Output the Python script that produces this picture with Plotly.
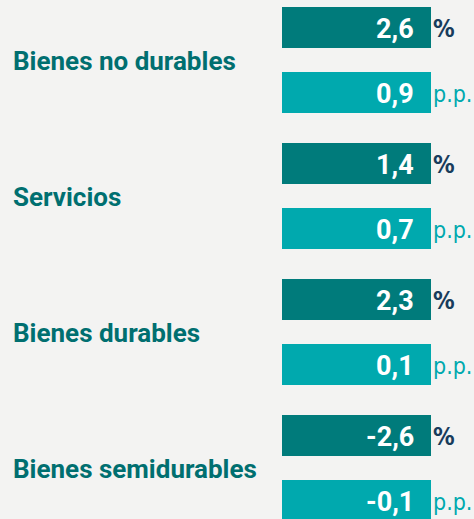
import plotly.graph_objects as go

categories = ["Bienes no durables", "Servicios", "Bienes durables", "Bienes semidurables"]
pct_values = [2.6, 1.4, 2.3, -2.6]       # dark bars, unit "%"
pp_values = [0.9, 0.7, 0.1, -0.1]        # light bars, unit "p.p."
pct_unit = "%"
pp_unit = "p.p."
bar_length = 1.0  # all bars are drawn the same length in the original

DARK = "#007b7b"
LIGHT = "#00a9ae"
LABEL = "#006f70"
NAVY = "#183c5c"
BG = "#f3f3f2"
FONT = "Roboto, sans-serif"
UFONT = "DejaVu Sans Condensed, sans-serif"

gap = 136 / 65
dark_y = [i * gap for i in range(len(categories))]
light_y = [i * gap + 1 for i in range(len(categories))]
mid_y = [i * gap + 0.5 for i in range(len(categories))]

def fmt(v):
    return f"{v:.1f}".replace(".", ",")

fig = go.Figure()
fig.add_trace(go.Bar(x=[bar_length] * len(categories), y=dark_y, orientation="h",
                     marker=dict(color=DARK, line=dict(width=0)), width=41 / 65,
                     hoverinfo="skip", showlegend=False))
fig.add_trace(go.Bar(x=[bar_length] * len(categories), y=light_y, orientation="h",
                     marker=dict(color=LIGHT, line=dict(width=0)), width=41 / 65,
                     hoverinfo="skip", showlegend=False))

ann = []
for i, cat in enumerate(categories):
    ann.append(dict(x=11 / 474, xref="paper", y=mid_y[i], yref="y", text=cat,
                    xanchor="left", yanchor="middle", showarrow=False, yshift=-1,
                    font=dict(family=FONT, size=26, color=LABEL, weight="bold")))
    ann.append(dict(x=bar_length, xref="x", y=dark_y[i], yref="y", text=fmt(pct_values[i]),
                    xanchor="right", yanchor="middle", xshift=-15, yshift=-1, showarrow=False,
                    font=dict(family=FONT, size=27, color="white", weight="bold")))
    ann.append(dict(x=bar_length, xref="x", y=light_y[i], yref="y", text=fmt(pp_values[i]),
                    xanchor="right", yanchor="middle", xshift=-15, yshift=-1, showarrow=False,
                    font=dict(family=FONT, size=27, color="white", weight="bold")))
    ann.append(dict(x=bar_length, xref="x", y=dark_y[i], yref="y", text=pct_unit,
                    xanchor="left", yanchor="middle", xshift=0, yshift=-1, showarrow=False,
                    font=dict(family=UFONT, size=24, color=NAVY, weight="bold")))
    ann.append(dict(x=bar_length, xref="x", y=light_y[i], yref="y", text=pp_unit,
                    xanchor="left", yanchor="middle", xshift=0, yshift=-1, showarrow=False,
                    font=dict(family=UFONT, size=23, color=LIGHT)))

x0 = -282 / 149
x1 = (474 - 282) / 149
top = -27.5 / 65
bottom = top + 519 / 65

fig.update_layout(
    width=474, height=519,
    margin=dict(l=0, r=0, t=0, b=0),
    paper_bgcolor=BG, plot_bgcolor=BG,
    xaxis=dict(range=[x0, x1], visible=False, fixedrange=True),
    yaxis=dict(range=[bottom, top], visible=False, fixedrange=True),
    annotations=ann,
    barmode="overlay",
)

fig.write_html("out.html", config={"displayModeBar": False},
               post_script="document.body.style.margin='0px';document.body.style.background='%s';" % BG)
